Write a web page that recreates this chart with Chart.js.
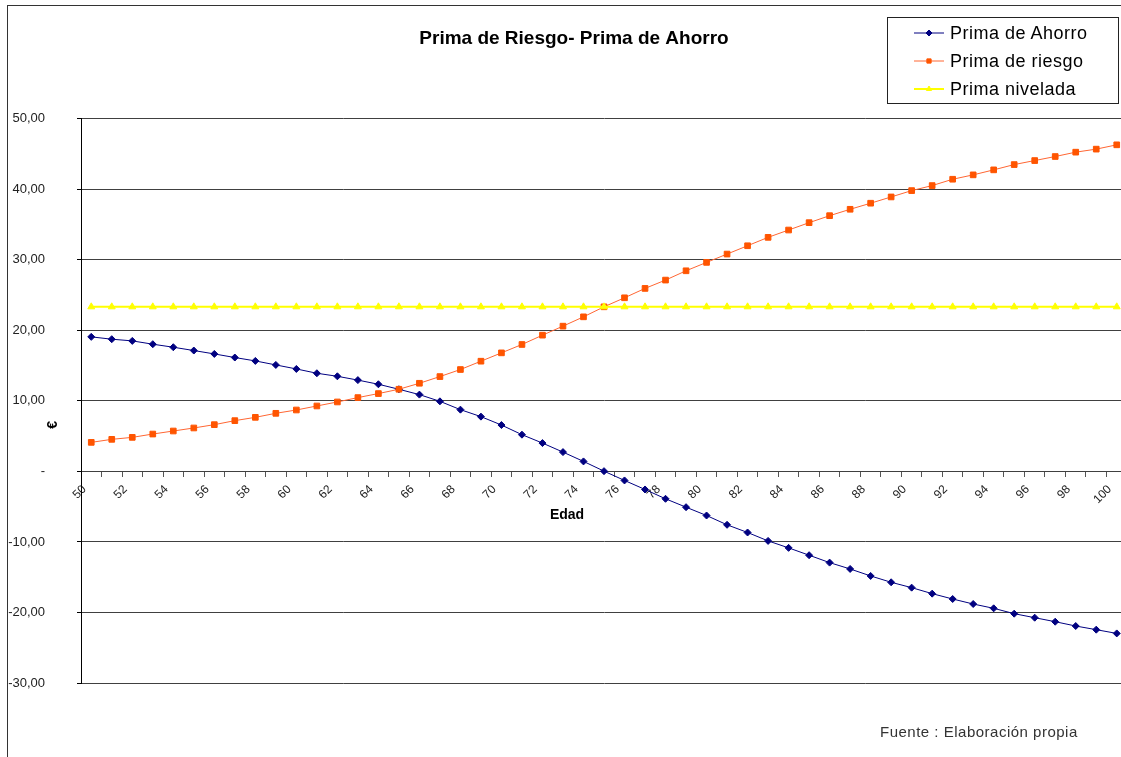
<!DOCTYPE html>
<html>
<head>
<meta charset="utf-8">
<title>Prima de Riesgo- Prima de Ahorro</title>
<script src="https://cdn.jsdelivr.net/npm/chart.js@4/dist/chart.umd.min.js"></script>
<style>
  html, body { margin: 0; padding: 0; background: #fff; overflow: hidden; width: 1121px; height: 757px; }
  #frame { position: absolute; left: 7px; top: 5px; width: 1200px; height: 800px; border-left: 1px solid #333; border-top: 1px solid #333; }
  #wrap { position: absolute; left: 0; top: 0; width: 1127px; height: 757px; }
  #legend { position: absolute; left: 887px; top: 17px; width: 230px; height: 85px; border: 1px solid #222; background: #fff;
            font-family: "Liberation Sans", Arial, sans-serif; font-size: 18px; letter-spacing: 0.5px; color: #000; }
  #legend .row { position: absolute; left: 0; height: 28px; display: flex; align-items: center; white-space: nowrap; }
  #legend canvas { margin-left: 26px; margin-right: 6px; }
  #source { position: absolute; left: 880px; top: 723px; font-family: "Liberation Sans", Arial, sans-serif; font-size: 15px;
            letter-spacing: 0.5px; color: #333; }
</style>
</head>
<body>
<div id="frame"></div>
<div id="wrap"><canvas id="chart" width="1127" height="757"></canvas></div>
<div id="legend"></div>
<div id="source">Fuente : Elaboración propia</div>
<script>
// Data
const chartTitle = 'Prima de Riesgo- Prima de Ahorro';
const xTitle = 'Edad';
const yTitle = '€';

const ages = [50, 51, 52, 53, 54, 55, 56, 57, 58, 59, 60, 61, 62, 63, 64, 65, 66, 67, 68, 69, 70,
              71, 72, 73, 74, 75, 76, 77, 78, 79, 80, 81, 82, 83, 84, 85, 86, 87, 88, 89, 90,
              91, 92, 93, 94, 95, 96, 97, 98, 99, 100];

const xTickLabels = ['50', '52', '54', '56', '58', '60', '62', '64', '66', '68', '70', '72', '74',
                     '76', '78', '80', '82', '84', '86', '88', '90', '92', '94', '96', '98', '100'];

const primaAhorro = [19.08, 18.75, 18.51, 18.04, 17.61, 17.14, 16.66, 16.15, 15.67, 15.10, 14.53,
                     13.92, 13.49, 12.95, 12.36, 11.65, 10.89, 9.94, 8.76, 7.77, 6.58,
                     5.21, 4.02, 2.74, 1.42, 0.04, -1.28, -2.56, -3.88, -5.07, -6.25,
                     -7.57, -8.66, -9.85, -10.84, -11.88, -12.93, -13.83, -14.82, -15.72, -16.48,
                     -17.33, -18.09, -18.80, -19.41, -20.17, -20.74, -21.31, -21.92, -22.44, -22.97];

const primaRiesgo = [4.12, 4.55, 4.83, 5.30, 5.73, 6.16, 6.63, 7.20, 7.67, 8.24, 8.71,
                     9.28, 9.85, 10.47, 11.04, 11.65, 12.50, 13.45, 14.45, 15.63, 16.81,
                     18.00, 19.32, 20.60, 21.92, 23.34, 24.62, 25.95, 27.13, 28.45, 29.64,
                     30.82, 32.00, 33.19, 34.23, 35.27, 36.26, 37.17, 38.03, 38.92, 39.82,
                     40.53, 41.43, 42.05, 42.76, 43.51, 44.08, 44.65, 45.27, 45.70, 46.31];

const primaNivelada = [23.34, 23.34, 23.34, 23.34, 23.34, 23.34, 23.34, 23.34, 23.34, 23.34, 23.34,
                       23.34, 23.34, 23.34, 23.34, 23.34, 23.34, 23.34, 23.34, 23.34, 23.34,
                       23.34, 23.34, 23.34, 23.34, 23.34, 23.34, 23.34, 23.34, 23.34, 23.34,
                       23.34, 23.34, 23.34, 23.34, 23.34, 23.34, 23.34, 23.34, 23.34, 23.34,
                       23.34, 23.34, 23.34, 23.34, 23.34, 23.34, 23.34, 23.34, 23.34, 23.34];

const yMin = -30;
const yMax = 50;
const yStep = 10;

const FONT = '"Liberation Sans", Arial, sans-serif';

// Axis titles sit between the tick labels and the axis (Excel layout), so draw them by hand
const axisTitles = {
    id: 'axisTitles',
    afterLayout(chart) {
        // left padding only moves the title; let the y labels use the full left margin
        chart.scales.y.left = 0;
    },
    afterDraw(chart) {
        const { ctx, chartArea, scales } = chart;
        ctx.save();
        ctx.fillStyle = '#000';
        ctx.font = 'bold 14px ' + FONT;
        ctx.textAlign = 'center';
        ctx.textBaseline = 'middle';
        ctx.fillText(xTitle, chartArea.left + 486, scales.y.getPixelForValue(0) + 44);
        ctx.translate(chartArea.left - 28, chartArea.top + 306);
        ctx.rotate(-Math.PI / 2);
        ctx.fillText(yTitle, 0, 0);
        ctx.restore();
    }
};

const chart = new Chart(document.getElementById('chart'), {
    type: 'line',
    data: {
        labels: ages.map(String),
        datasets: [
            {
                label: 'Prima de Ahorro',
                data: primaAhorro,
                borderColor: '#000080',
                backgroundColor: '#000080',
                borderWidth: 1,
                pointStyle: 'rectRot',
                pointRadius: 3.5,
                pointBorderWidth: 1,
                order: 3
            },
            {
                label: 'Prima de riesgo',
                data: primaRiesgo,
                borderColor: '#FF6633',
                backgroundColor: '#FF5500',
                pointBorderColor: '#FF5500',
                borderWidth: 1,
                pointStyle: 'rect',
                pointRadius: 4,
                pointBorderWidth: 1,
                order: 2
            },
            {
                label: 'Prima nivelada',
                data: primaNivelada,
                borderColor: '#FFFF00',
                backgroundColor: '#FFFF00',
                borderWidth: 2,
                pointStyle: 'triangle',
                pointRadius: 4,
                pointBorderWidth: 1,
                order: 1
            }
        ]
    },
    options: {
        responsive: false,
        animation: false,
        layout: { autoPadding: false, padding: { left: 21, right: 0, top: 0, bottom: 74 } },
        plugins: {
            legend: { display: false },
            tooltip: { enabled: false },
            title: {
                display: true,
                text: chartTitle,
                color: '#000',
                font: { family: FONT, size: 19, weight: 'bold' },
                padding: { top: 27, bottom: 69 }
            }
        },
        scales: {
            x: {
                type: 'category',
                position: { y: 0 },
                offset: true,
                afterFit: (scale) => { scale.paddingLeft = 0; scale.paddingRight = 0; },
                grid: { drawOnChartArea: false, drawTicks: true, offset: true, tickLength: 5, tickColor: '#555' },
                border: { display: true, color: '#404040', width: 1 },
                ticks: {
                    autoSkip: false,
                    maxRotation: 45,
                    minRotation: 45,
                    padding: 6,
                    labelOffset: -7,
                    color: '#222',
                    font: { family: FONT, size: 12 },
                    callback: function(value) {
                        const lbl = this.getLabelForValue(value);
                        return xTickLabels.includes(lbl) ? lbl : '';
                    }
                }
            },
            y: {
                min: yMin,
                max: yMax,
                afterFit: (scale) => { scale.width = 60; },
                grid: { color: '#404040', lineWidth: 1, drawTicks: true, tickLength: 4, tickColor: '#000' },
                border: { display: true, color: '#000', width: 1 },
                ticks: {
                    stepSize: yStep,
                    padding: 32,
                    color: '#222',
                    font: { family: FONT, size: 13 },
                    callback: (v) => v === 0 ? '-' : v.toFixed(2).replace('.', ',')
                }
            }
        }
    },
    plugins: [axisTitles]
});

// Legend built from the chart's datasets, boxed like the Excel legend
function buildLegend(chart) {
    const box = document.getElementById('legend');
    chart.data.datasets.forEach((ds, i) => {
        const row = document.createElement('div');
        row.className = 'row';
        row.style.top = (1 + i * 28) + 'px';
        const c = document.createElement('canvas');
        c.width = 30;
        c.height = 14;
        const ctx = c.getContext('2d');
        ctx.strokeStyle = ds.borderColor;
        ctx.lineWidth = ds.borderWidth;
        ctx.beginPath();
        ctx.moveTo(0, 7);
        ctx.lineTo(30, 7);
        ctx.stroke();
        ctx.fillStyle = ds.pointBorderColor || ds.backgroundColor;
        ctx.strokeStyle = ds.pointBorderColor || ds.backgroundColor;
        ctx.lineWidth = 1;
        if (Chart.helpers && Chart.helpers.drawPoint) {
            Chart.helpers.drawPoint(ctx, { pointStyle: ds.pointStyle, radius: 3, rotation: 0, borderWidth: 1 }, 15, 7);
        } else {
            ctx.fillRect(12, 4, 6, 6);
        }
        const span = document.createElement('span');
        span.textContent = ds.label;
        row.appendChild(c);
        row.appendChild(span);
        box.appendChild(row);
    });
}
buildLegend(chart);
</script>
</body>
</html>
